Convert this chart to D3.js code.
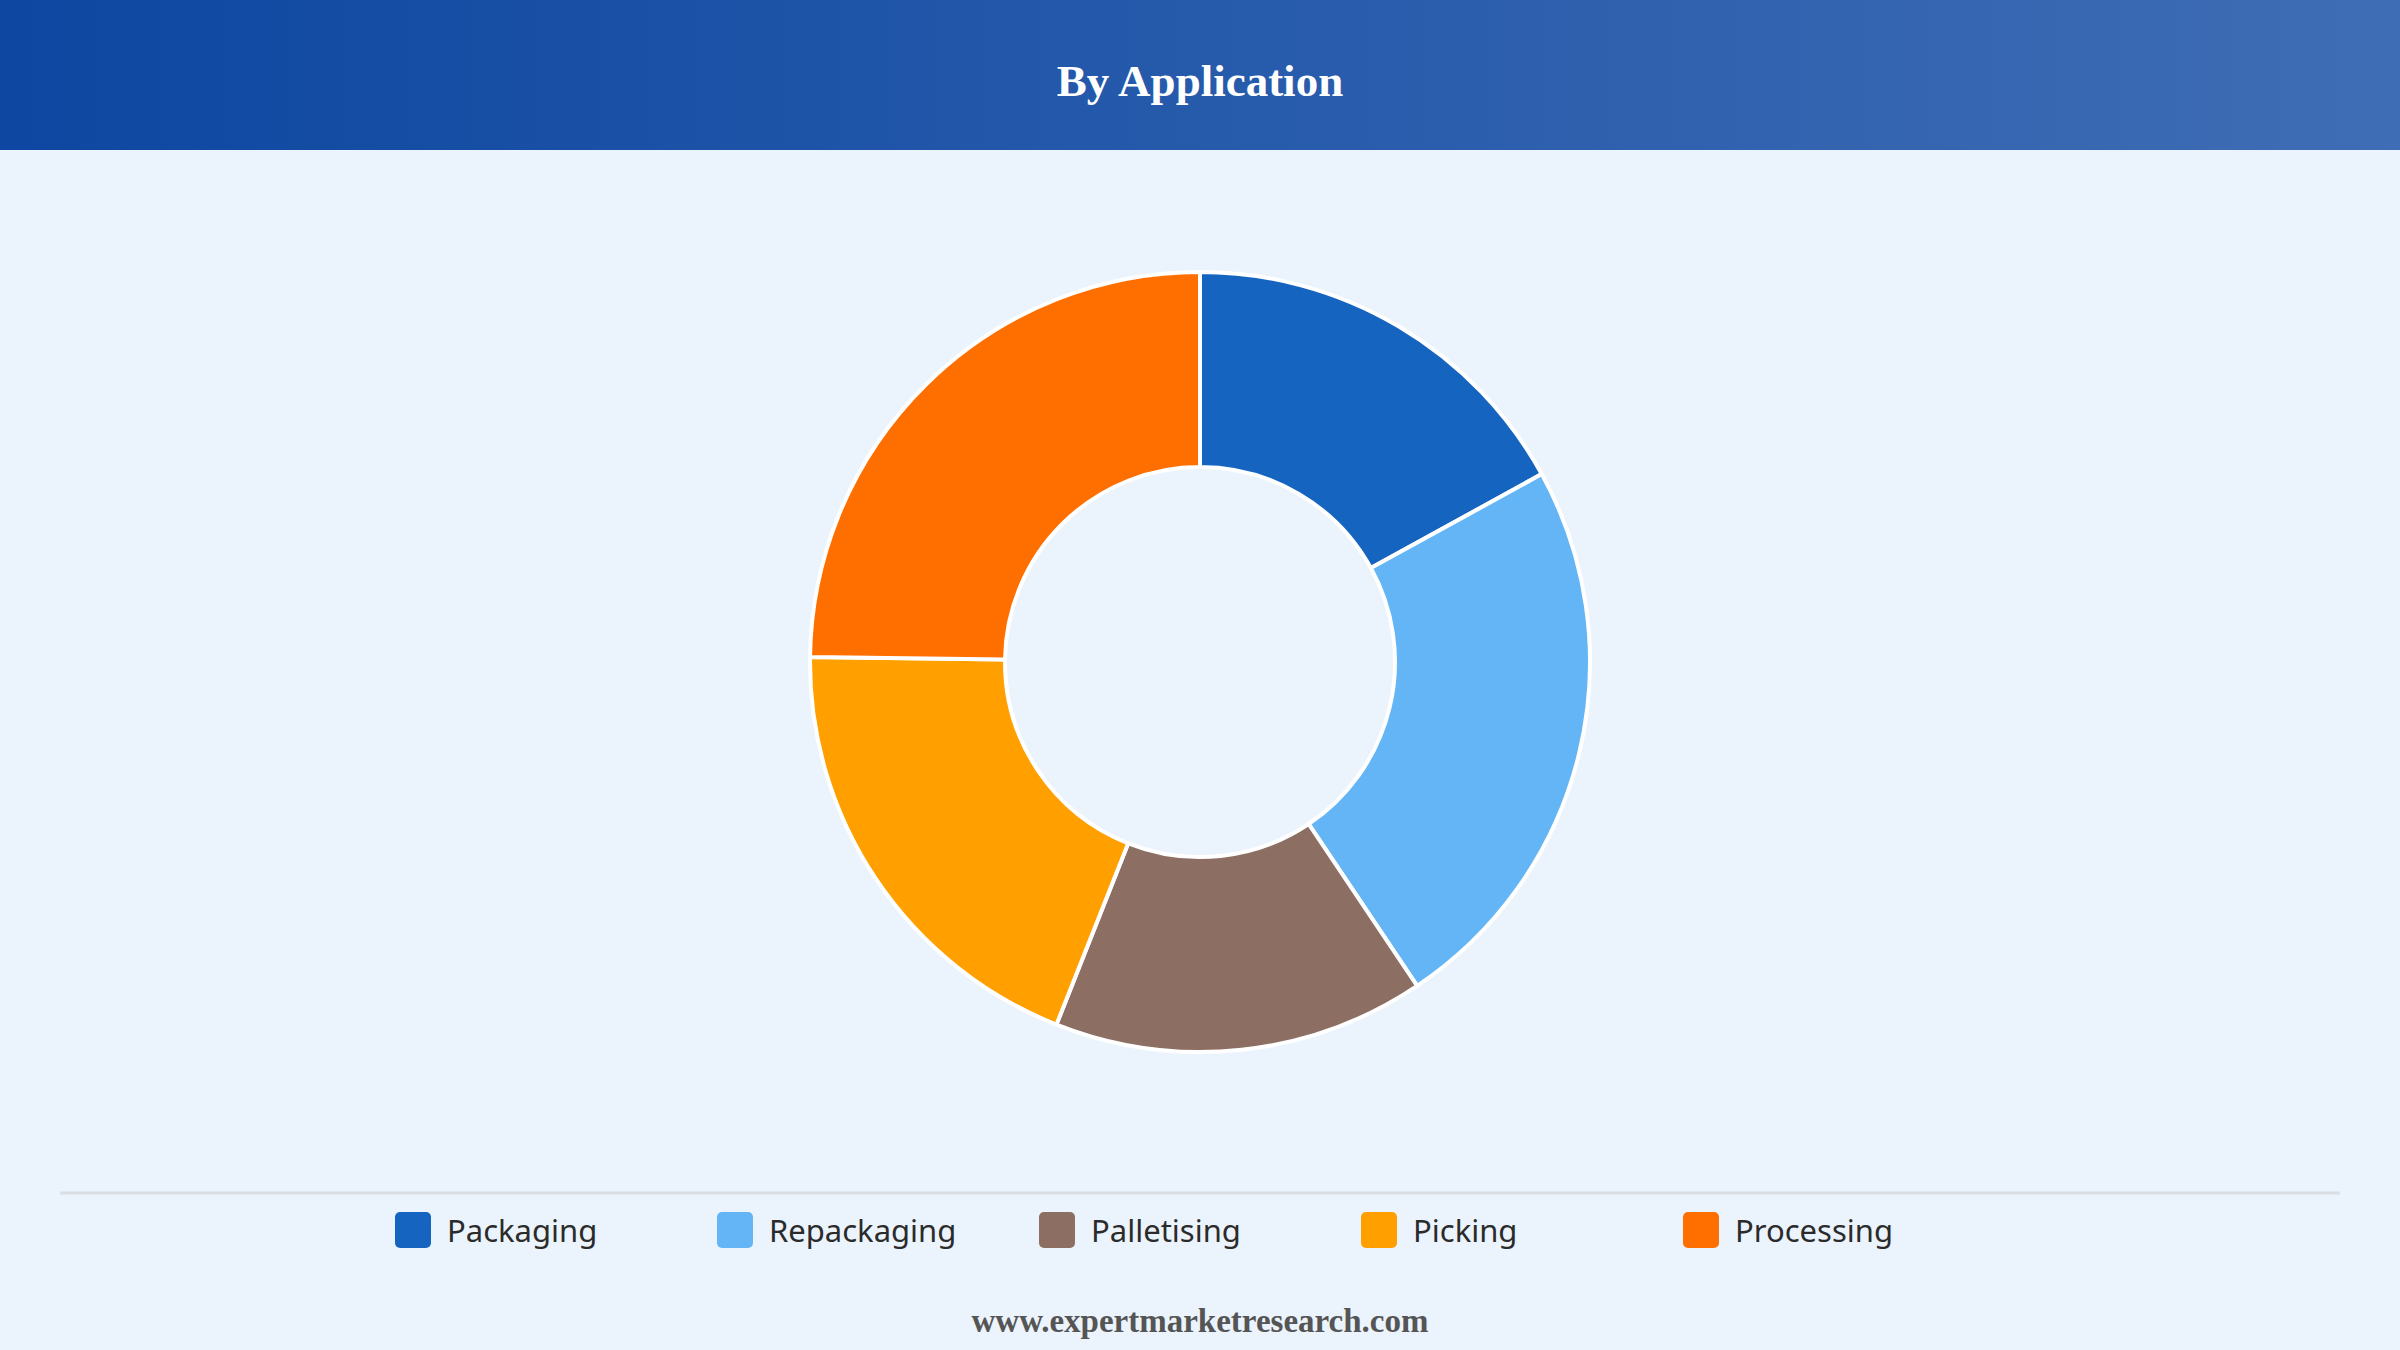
<!DOCTYPE html>
<html>
<head>
<meta charset="utf-8">
<script src="https://cdn.jsdelivr.net/npm/d3@7"></script>
<style>
  html, body { margin: 0; padding: 0; background: #EBF3FC; }
  svg { display: block; }
</style>
</head>
<body>
<div id="container"></div>
<script>
/* DATA */
const categories = ["Packaging", "Repackaging", "Palletising", "Picking", "Processing"];
const shares = [17.0, 23.6, 15.4, 19.2, 24.8];
const colors = ["#1565C0", "#64B5F6", "#8D6E63", "#FFA000", "#FF6F00"];

/* CONSTANTS */
const width = 2400,
  height = 1350,
  cx = 1200,
  cy = 662,
  outerR = 390,
  innerR = 195;

const svg = d3.select("#container")
  .append("svg")
  .attr("width", width)
  .attr("height", height);

// background
svg.append("rect")
  .attr("width", width)
  .attr("height", height)
  .attr("fill", "#EBF3FC");

// header band with gradient
const grad = svg.append("defs")
  .append("linearGradient")
  .attr("id", "hdr")
  .attr("x1", "0%").attr("x2", "100%")
  .attr("y1", "0%").attr("y2", "0%");
grad.append("stop").attr("offset", "0%").attr("stop-color", "#0D47A1");
grad.append("stop").attr("offset", "100%").attr("stop-color", "#3F6DB5");

svg.append("rect")
  .attr("width", width)
  .attr("height", 150)
  .attr("fill", "url(#hdr)");

svg.append("text")
  .attr("x", cx)
  .attr("y", 96)
  .attr("text-anchor", "middle")
  .attr("font-family", "'Liberation Serif', 'Times New Roman', serif")
  .attr("font-weight", "bold")
  .attr("font-size", 45)
  .attr("fill", "#ffffff")
  .text("By Application");

// donut
const color = d3.scaleOrdinal()
  .domain(categories)
  .range(colors);

const pie = d3.pie()
  .value(d => d.value)
  .sort(null);

const arc = d3.arc()
  .innerRadius(innerR)
  .outerRadius(outerR);

const rows = categories.map((c, i) => ({ name: c, value: shares[i] }));

svg.append("g")
  .attr("transform", `translate(${cx}, ${cy})`)
  .selectAll("path")
  .data(pie(rows))
  .join("path")
  .attr("d", arc)
  .attr("fill", d => color(d.data.name))
  .attr("stroke", "#ffffff")
  .attr("stroke-width", 4)
  .attr("stroke-linejoin", "round");

// separator line
svg.append("line")
  .attr("x1", 60).attr("x2", 2340)
  .attr("y1", 1193).attr("y2", 1193)
  .attr("stroke", "#DADDE2")
  .attr("stroke-width", 3);

// legend
const itemW = 322;
const legendX = d3.scaleBand()
  .domain(categories)
  .range([cx - itemW * 2.5, cx + itemW * 2.5]);

const items = svg.append("g")
  .selectAll("g")
  .data(categories)
  .join("g")
  .attr("transform", d => `translate(${legendX(d)}, 1212)`);

items.append("rect")
  .attr("width", 36)
  .attr("height", 36)
  .attr("rx", 5)
  .attr("fill", d => color(d));

items.append("text")
  .attr("x", 52)
  .attr("y", 30)
  .attr("font-family", "'Noto Sans', 'Open Sans', sans-serif")
  .attr("font-size", 31)
  .attr("fill", "#2b2b2b")
  .text(d => d);

// footer
svg.append("text")
  .attr("x", cx)
  .attr("y", 1332)
  .attr("text-anchor", "middle")
  .attr("font-family", "'Liberation Serif', 'Times New Roman', serif")
  .attr("font-weight", "bold")
  .attr("font-size", 33)
  .attr("fill", "#555555")
  .text("www.expertmarketresearch.com");
</script>
</body>
</html>
